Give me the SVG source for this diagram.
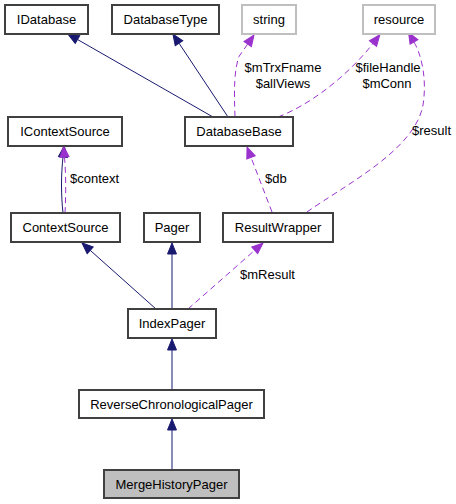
<svg xmlns="http://www.w3.org/2000/svg" width="456" height="504" viewBox="0 0 456 504">
<style>
  .box { fill: #ffffff; stroke: #404040; stroke-width: 2; }
  .ext { fill: #ffffff; stroke: #bfbfbf; stroke-width: 2; }
  .cur { fill: #bfbfbf; stroke: #404040; stroke-width: 2; }
  .lbl { font-family: "Liberation Sans", Arial, sans-serif; font-size: 13px; fill: #000000; text-anchor: middle; }
  .elbl { font-family: "Liberation Sans", Arial, sans-serif; font-size: 13px; fill: #000000; }
  .inh { fill: none; stroke: #191970; stroke-width: 1; marker-end: url(#arrNavy); }
  .use { fill: none; stroke: #9a32cd; stroke-width: 1; stroke-dasharray: 6,4; marker-end: url(#arrPurple); }
</style>
<defs>
  <marker id="arrNavy" markerUnits="userSpaceOnUse" markerWidth="12" markerHeight="10" refX="0" refY="4.5" orient="auto" overflow="visible">
    <path d="M0,0 L11,4.5 L0,9 z" fill="#191970" stroke="#191970" stroke-width="1" stroke-dasharray="none"/>
  </marker>
  <marker id="arrPurple" markerUnits="userSpaceOnUse" markerWidth="12" markerHeight="10" refX="0" refY="4.5" orient="auto" overflow="visible">
    <path d="M0,0 L11,4.5 L0,9 z" fill="#9a32cd" stroke="#9a32cd" stroke-width="1" stroke-dasharray="none"/>
  </marker>
</defs>
<rect width="456" height="504" fill="#ffffff"/>
<g id="edges">
  <path class="inh" d="M213,117 L77.5,39.5"/>
  <path class="inh" d="M228,117 L179,43.2"/>
  <path class="use" d="M235,117 C234,90 234,70 239.1,56.3 L247.7,44"/>
  <path class="use" d="M278,117 C312,104 349,74 373,43.5"/>
  <path class="use" d="M307,212 C345,185 415,150 423,105 C427,80 422,56 414,42"/>
  <path class="use" d="M272,212 L251,157.3"/>
  <path class="inh" d="M63,213 C61,195 61,175 63,157"/>
  <path class="use" d="M65,213 C66,195 66,175 64.5,157"/>
  <path class="inh" d="M156,309 L90.2,250.3"/>
  <path class="inh" d="M172,309 L172,254"/>
  <path class="use" d="M188,309 L254.7,250.3"/>
  <path class="inh" d="M172,390 L172,350"/>
  <path class="inh" d="M172,470 L172,430"/>
</g>
<g id="edge-labels">
  <text class="lbl" x="283" y="72">$mTrxFname</text>
  <text class="lbl" x="283" y="88">$allViews</text>
  <text class="lbl" x="388" y="72">$fileHandle</text>
  <text class="lbl" x="387" y="88">$mConn</text>
  <text class="elbl" x="412" y="135">$result</text>
  <text class="elbl" x="70" y="183">$context</text>
  <text class="elbl" x="265" y="183">$db</text>
  <text class="elbl" x="240" y="279">$mResult</text>
</g>
<g id="IDatabase"><rect class="box" x="5" y="5" width="83" height="29"/><text class="lbl" x="46.5" y="24">IDatabase</text></g>
<g id="DatabaseType"><rect class="box" x="112" y="5" width="107" height="29"/><text class="lbl" x="165.5" y="24">DatabaseType</text></g>
<g id="string"><rect class="ext" x="242" y="5" width="54" height="29"/><text class="lbl" x="269" y="24">string</text></g>
<g id="resource"><rect class="ext" x="363" y="5" width="72" height="29"/><text class="lbl" x="399" y="24">resource</text></g>
<g id="IContextSource"><rect class="box" x="8" y="117" width="114" height="29"/><text class="lbl" x="65" y="136">IContextSource</text></g>
<g id="DatabaseBase"><rect class="box" x="185" y="117" width="108" height="29"/><text class="lbl" x="239" y="136">DatabaseBase</text></g>
<g id="ContextSource"><rect class="box" x="11" y="213" width="109" height="29"/><text class="lbl" x="65.5" y="232">ContextSource</text></g>
<g id="Pager"><rect class="box" x="144" y="213" width="56" height="29"/><text class="lbl" x="172" y="232">Pager</text></g>
<g id="ResultWrapper"><rect class="box" x="223" y="213" width="110" height="29"/><text class="lbl" x="278" y="232">ResultWrapper</text></g>
<g id="IndexPager"><rect class="box" x="128" y="309" width="88" height="29"/><text class="lbl" x="172" y="328">IndexPager</text></g>
<g id="ReverseChronologicalPager"><rect class="box" x="79" y="390" width="185" height="28"/><text class="lbl" x="171.5" y="408.5">ReverseChronologicalPager</text></g>
<g id="MergeHistoryPager"><rect class="cur" x="104" y="470" width="135" height="28"/><text class="lbl" x="171.5" y="488.5">MergeHistoryPager</text></g>
</svg>
